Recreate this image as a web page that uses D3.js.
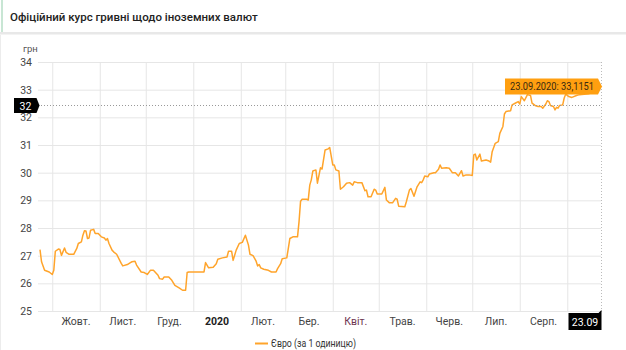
<!DOCTYPE html>
<html>
<head>
<meta charset="utf-8">
<script src="https://cdn.jsdelivr.net/npm/d3@7"></script>
<style>
  body { margin: 0; background: #fff; font-family: Roboto, "Noto Sans", sans-serif; }
  svg text { font-family: Roboto, "Noto Sans", sans-serif; }
</style>
</head>
<body>
<div id="chart"></div>
<script>
// EUR -> UAH official rate
var dates = [
  "2019-09-23","2019-09-24","2019-09-26","2019-09-29","2019-10-01","2019-10-02","2019-10-03","2019-10-05",
  "2019-10-06","2019-10-07","2019-10-09","2019-10-10","2019-10-12","2019-10-15","2019-10-17","2019-10-18",
  "2019-10-20","2019-10-21","2019-10-22","2019-10-23","2019-10-24","2019-10-25","2019-10-26","2019-10-28",
  "2019-10-29","2019-10-31","2019-11-02","2019-11-04","2019-11-05","2019-11-06","2019-11-07","2019-11-09",
  "2019-11-10","2019-11-12","2019-11-15","2019-11-16","2019-11-19","2019-11-21","2019-11-22","2019-11-24",
  "2019-11-25","2019-11-28","2019-11-30","2019-12-02","2019-12-04","2019-12-06","2019-12-09","2019-12-10",
  "2019-12-12","2019-12-13","2019-12-16","2019-12-18","2019-12-20","2019-12-23","2019-12-25","2019-12-27",
  "2019-12-28","2019-12-29","2020-01-08","2020-01-09","2020-01-11","2020-01-14","2020-01-16","2020-01-17",
  "2020-01-20","2020-01-23","2020-01-24","2020-01-26","2020-01-27","2020-01-29","2020-01-31","2020-02-02",
  "2020-02-04","2020-02-06","2020-02-07","2020-02-09","2020-02-11","2020-02-12","2020-02-13","2020-02-14",
  "2020-02-16","2020-02-19","2020-02-21","2020-02-24","2020-02-25","2020-02-27","2020-02-28","2020-03-02",
  "2020-03-03","2020-03-04","2020-03-06","2020-03-09","2020-03-10","2020-03-11","2020-03-12","2020-03-15",
  "2020-03-16","2020-03-17","2020-03-18","2020-03-19","2020-03-21","2020-03-22","2020-03-24","2020-03-25",
  "2020-03-27","2020-03-29","2020-03-30","2020-04-01","2020-04-02","2020-04-03","2020-04-05","2020-04-06",
  "2020-04-08","2020-04-10","2020-04-12","2020-04-14","2020-04-15","2020-04-17","2020-04-20","2020-04-22",
  "2020-04-23","2020-04-24","2020-04-26","2020-04-28","2020-04-29","2020-04-30","2020-05-03","2020-05-05",
  "2020-05-06","2020-05-08","2020-05-10","2020-05-12","2020-05-13","2020-05-14","2020-05-18","2020-05-19",
  "2020-05-21","2020-05-22","2020-05-24","2020-05-26","2020-05-28","2020-05-29","2020-05-30","2020-05-31",
  "2020-06-02","2020-06-03","2020-06-06","2020-06-07","2020-06-09","2020-06-10","2020-06-11","2020-06-14",
  "2020-06-16","2020-06-18","2020-06-20","2020-06-22","2020-06-24","2020-06-25","2020-06-27","2020-06-29",
  "2020-07-01","2020-07-02","2020-07-03","2020-07-04","2020-07-06","2020-07-07","2020-07-10","2020-07-12",
  "2020-07-13","2020-07-14","2020-07-16","2020-07-18","2020-07-19","2020-07-21","2020-07-22","2020-07-23",
  "2020-07-26","2020-07-27","2020-07-29","2020-07-31","2020-08-01","2020-08-02","2020-08-04","2020-08-06",
  "2020-08-08","2020-08-09","2020-08-11","2020-08-13","2020-08-15","2020-08-16","2020-08-18","2020-08-19",
  "2020-08-20","2020-08-21","2020-08-23","2020-08-24","2020-08-25","2020-08-26","2020-08-27","2020-08-29",
  "2020-08-30","2020-08-31","2020-09-02","2020-09-04","2020-09-07","2020-09-09","2020-09-15","2020-09-20",
  "2020-09-23"
];
var eurValues = [
  27.22,26.78,26.47,26.41,26.32,26.47,27.16,27.24,
  27.22,27.01,27.28,27.12,27.05,27.05,27.26,27.44,
  27.50,27.74,27.90,27.89,27.62,27.64,27.92,27.95,
  27.80,27.80,27.68,27.64,27.56,27.62,27.44,27.20,
  27.14,27.05,26.72,26.63,26.68,26.75,26.78,26.80,
  26.66,26.41,26.39,26.32,26.47,26.47,26.29,26.17,
  26.15,26.23,26.23,26.11,25.93,25.83,25.75,25.75,
  26.39,26.41,26.41,26.75,26.56,26.58,26.71,26.87,
  26.92,26.95,27.16,27.16,26.83,27.20,27.44,27.48,
  27.74,27.38,27.05,27.00,26.80,26.63,26.68,26.56,
  26.51,26.47,26.41,26.41,26.53,26.71,26.89,26.92,
  27.26,27.62,27.68,27.68,28.23,28.97,29.04,29.04,
  29.01,29.55,29.74,30.06,30.10,29.62,30.18,30.13,
  30.82,30.86,30.91,30.28,30.28,30.10,30.06,29.40,
  29.49,29.62,29.64,29.55,29.67,29.64,29.64,29.35,
  29.37,29.13,29.13,29.40,29.37,29.23,29.23,29.47,
  29.01,28.91,28.91,29.07,29.04,28.79,28.77,28.95,
  29.37,29.43,29.15,29.49,29.67,29.64,29.74,29.88,
  29.85,29.95,30.00,30.00,30.12,30.28,30.16,30.18,
  30.16,30.00,30.00,29.88,30.07,29.88,29.92,29.92,
  29.90,30.64,30.67,30.46,30.67,30.42,30.46,30.42,
  30.38,30.76,31.06,31.12,31.42,31.67,32.12,32.21,
  32.24,32.45,32.51,32.57,32.48,32.75,32.60,32.82,
  32.79,32.51,32.43,32.39,32.39,32.33,32.48,32.60,
  32.57,32.43,32.39,32.27,32.36,32.33,32.43,32.45,
  32.70,32.84,32.75,32.72,32.79,32.82,32.85,33.00,
  33.1151
];
var yTicks = [25, 26, 27, 28, 29, 30, 31, 32, 33, 34];
var monthLabels = ["Жовт.", "Лист.", "Груд.", "2020", "Лют.", "Бер.", "Квіт.", "Трав.", "Черв.", "Лип.", "Серп."];

var title = "Офіційний курс гривні щодо іноземних валют";
var seriesName = "Євро (за 1 одиницю)";
var hoverValue = 32.45; // where the crosshair sits

var W = 626, H = 350;
var parse = d3.timeParse("%Y-%m-%d");
var data = dates.map(function (d, i) { return { date: parse(d), value: eurValues[i] }; });
var start = data[0].date, end = data[data.length - 1].date;

var margin = { left: 40, right: 25, top: 62, bottom: 39 };

var svg = d3.select("#chart").append("svg")
    .attr("width", W)
    .attr("height", H);

// header
svg.append("rect").attr("x", 0).attr("y", 32).attr("width", W).attr("height", 2).attr("fill", "#e8e8e8");
svg.append("rect").attr("x", 0).attr("y", 34).attr("width", W).attr("height", 1).attr("fill", "#f3f3f3");
svg.append("rect").attr("x", 1).attr("y", 0).attr("width", 2).attr("height", 32).attr("fill", "#c8e6d4");
svg.append("rect").attr("x", 0).attr("y", 35).attr("width", 1).attr("height", H - 35).attr("fill", "#ececec");
svg.append("text")
    .attr("x", 10).attr("y", 21)
    .attr("font-size", 11.5).attr("font-weight", 500)
    .attr("fill", "#222")
    .text(title);

var x = d3.scaleTime().domain([start, end]).range([margin.left, W - margin.right]);
var y = d3.scaleLinear().domain([25, 34]).range([H - margin.bottom, margin.top]);

// horizontal grid + y labels
var yAxis = svg.append("g")
    .attr("transform", "translate(" + (margin.left - 2) + ",0)")
    .call(d3.axisLeft(y).tickValues(yTicks).tickSize(-(W - margin.right - margin.left + 2)).tickPadding(6));
yAxis.select(".domain").remove();
yAxis.selectAll(".tick line").attr("stroke", "#e6e6e6");
yAxis.selectAll(".tick text").attr("font-size", 10.5).attr("fill", "#444");

svg.append("text")
    .attr("x", 23).attr("y", 52)
    .attr("font-size", 9.5).attr("fill", "#555")
    .text("грн");

// vertical grid at month starts
var monthStarts = d3.timeMonth.range(d3.timeMonth.ceil(start), end);
var xAxis = svg.append("g")
    .attr("transform", "translate(0," + (H - margin.bottom + 1) + ")")
    .call(d3.axisBottom(x).tickValues(monthStarts).tickSize(-(H - margin.bottom - margin.top + 1)).tickFormat(""));
xAxis.select(".domain").remove();
xAxis.selectAll(".tick line").attr("stroke", "#e6e6e6");

// month labels at middle of each full month
var mids = monthStarts.slice(0, monthLabels.length).map(function (m) {
    return new Date((+m + +d3.timeMonth.offset(m, 1)) / 2);
});
svg.append("g").selectAll("text")
    .data(monthLabels)
    .join("text")
    .attr("x", function (d, i) { return x(mids[i]); })
    .attr("y", H - margin.bottom + 14)
    .attr("text-anchor", "middle")
    .attr("font-size", 10.5)
    .attr("font-weight", function (d) { return d === "2020" ? "bold" : null; })
    .attr("fill", function (d) { return d === "2020" ? "#222" : (d === "Квіт." ? "#6e3550" : "#444"); })
    .text(function (d) { return d; });

// the series
var line = d3.line()
    .x(function (d) { return x(d.date); })
    .y(function (d) { return y(d.value); });
svg.append("path")
    .datum(data)
    .attr("fill", "none")
    .attr("stroke", "#ffa42b")
    .attr("stroke-width", 1.5)
    .attr("stroke-linejoin", "round")
    .attr("d", line);

// crosshair
var hy = Math.round(y(hoverValue)) + 0.5;
var hx = Math.round(x(end)) + 0.5;
svg.append("line")
    .attr("x1", margin.left - 2).attr("x2", hx)
    .attr("y1", hy).attr("y2", hy)
    .attr("stroke", "#999").attr("stroke-dasharray", "1,2");
svg.append("line")
    .attr("x1", hx).attr("x2", hx)
    .attr("y1", margin.top).attr("y2", H - margin.bottom + 1)
    .attr("stroke", "#bbb").attr("stroke-dasharray", "1,2");

// y crosshair label
svg.append("path")
    .attr("d", "M14," + (hy - 7.5) + "H36.5L39.5," + hy + "L36.5," + (hy + 7.5) + "H14Z")
    .attr("fill", "#000");
svg.append("text")
    .attr("x", 25.5).attr("y", hy + 4)
    .attr("text-anchor", "middle")
    .attr("font-size", 10.5).attr("fill", "#fff")
    .text(d3.format("d")(Math.floor(hoverValue)));

// x crosshair label
var by = H - margin.bottom + 2;
svg.append("path")
    .attr("d", "M" + (hx - 33) + "," + by + "H" + (hx - 3) + "L" + hx + "," + (by - 3) + "V" + (by + 17) + "H" + (hx - 33) + "Z")
    .attr("fill", "#000");
svg.append("text")
    .attr("x", hx - 16.5).attr("y", by + 12.5)
    .attr("text-anchor", "middle")
    .attr("font-size", 10.5).attr("fill", "#fff")
    .text(d3.timeFormat("%d.%m")(end));

// tooltip for the last point
var last = data[data.length - 1];
var tx = x(last.date), ty = y(last.value);
svg.append("path")
    .attr("d", "M" + (tx - 96) + "," + (ty - 8) + "H" + (tx - 3) + "L" + (tx + 1) + "," + ty + "L" + (tx - 3) + "," + (ty + 8) + "H" + (tx - 96) + "Z")
    .attr("fill", "#ff9f10");
svg.append("text")
    .attr("x", tx - 91).attr("y", ty + 4)
    .attr("font-size", 10.5).attr("fill", "#3a2a10")
    .attr("textLength", 84).attr("lengthAdjust", "spacingAndGlyphs")
    .text(d3.timeFormat("%d.%m.%Y")(last.date) + ": " + String(last.value).replace(".", ","));

// legend
svg.append("line")
    .attr("x1", 255).attr("x2", 268)
    .attr("y1", 343.5).attr("y2", 343.5)
    .attr("stroke", "#ffa42b").attr("stroke-width", 2);
svg.append("text")
    .attr("x", 271).attr("y", 347)
    .attr("font-size", 10.5).attr("fill", "#333")
    .attr("textLength", 85).attr("lengthAdjust", "spacingAndGlyphs")
    .text(seriesName);
</script>
</body>
</html>
